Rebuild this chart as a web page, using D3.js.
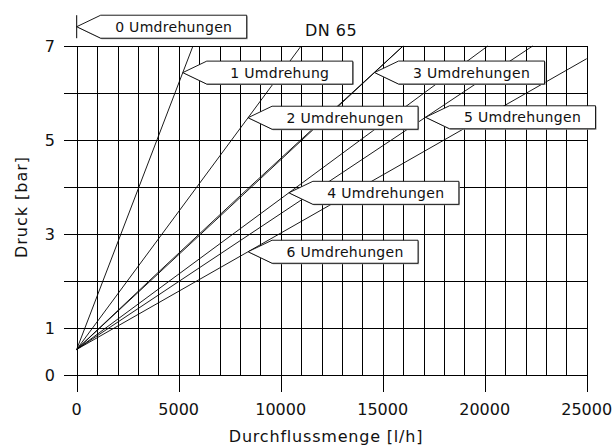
<!DOCTYPE html>
<html><head><meta charset="utf-8">
<script src="https://cdn.jsdelivr.net/npm/d3@7"></script>
<style>
html,body{margin:0;padding:0;background:#fff;}
text{font-family:"DejaVu Sans",sans-serif;fill:#111;}
</style></head>
<body><svg id="c" width="616" height="446"></svg>
<script>
// ---- data ----
const title = "DN 65";
const xTitle = "Durchflussmenge [l/h]";
const yTitle = "Druck [bar]";
const flowTicks = [0, 5000, 10000, 15000, 20000, 25000];
const pressureTicks = [0, 1, 3, 5, 7];
const flowGridStep = 1000;
const pressureGrid = [0, 1, 2, 3, 4, 5, 6, 7];
const seriesNames = ["1 Umdrehung", "2 Umdrehungen", "3 Umdrehungen", "4 Umdrehungen", "5 Umdrehungen", "6 Umdrehungen"];
const seriesFlow = [[0, 5700], [0, 11000], [0, 16000], [0, 20150], [0, 22350], [0, 25000]];
const seriesPressure = [[0.55, 7], [0.55, 7], [0.55, 7], [0.55, 7], [0.55, 7], [0.55, 6.73]];
const labelFlow = [5200, 8400, 14600, 10400, 17100, 8400];
const curve3Flow = [0, 4000, 8000, 12000, 16000];
const curve3Pressure = [0.55, 2.19, 3.81, 5.41, 7];
const zeroLabel = "0 Umdrehungen";
const zeroLabelPressure = 7.41;

// ---- chart ----
const svg = d3.select("#c");
const x = d3.scaleLinear().domain([0, 25000]).range([76.7, 586.7]);
const y = d3.scaleLinear().domain([0, 7]).range([375.3, 46.0]);
const px = v => Math.round(x(v)) + 0.5;
const py = v => Math.round(y(v)) + 0.5;

const grid = svg.append("g").attr("stroke", "#000").attr("stroke-width", 1).attr("shape-rendering", "crispEdges");
const flowGrid = d3.range(0, 25000 + 1, flowGridStep);
grid.selectAll("line.v").data(flowGrid).join("line")
  .attr("x1", d => px(d)).attr("x2", d => px(d))
  .attr("y1", d => flowTicks.includes(d) ? py(0) + 16 : py(0)).attr("y2", py(7));
grid.selectAll("line.h").data(pressureGrid).join("line")
  .attr("x1", px(0) - 14).attr("x2", px(25000))
  .attr("y1", d => py(d)).attr("y2", d => py(d));

// tick labels
svg.append("g").selectAll("text").data(flowTicks).join("text")
  .attr("x", d => x(d)).attr("y", 415).attr("text-anchor", "middle")
  .attr("font-size", 16).text(d => d);
svg.append("g").selectAll("text").data(pressureTicks).join("text")
  .attr("x", 55).attr("y", d => y(d) + 5.8).attr("text-anchor", "end")
  .attr("font-size", 16).text(d => d);

// titles
svg.append("text").attr("x", 326).attr("y", 441.5).attr("text-anchor", "middle")
  .attr("font-size", 16).attr("letter-spacing", 0.8).text(xTitle);
svg.append("text").attr("transform", "translate(27,207) rotate(-90)").attr("text-anchor", "middle")
  .attr("font-size", 16).attr("letter-spacing", 1).text(yTitle);
svg.append("text").attr("x", 331).attr("y", 36).attr("text-anchor", "middle")
  .attr("font-size", 16).attr("letter-spacing", 0.5).text(title);

// curves
const line = d3.line().x(d => x(d[0])).y(d => y(d[1]));
const curves = svg.append("g").attr("fill", "none").attr("stroke", "#000").attr("stroke-width", 0.9);
seriesNames.forEach((n, i) => {
  curves.append("path").attr("d", line(d3.zip(seriesFlow[i], seriesPressure[i])));
});
curves.append("path").attr("d", line(d3.zip(curve3Flow, curve3Pressure)));

// labels
const boxW = 146, boxH = 23, tipOff = 24;
function drawLabel(tx, ty, txt, bar) {
  const g = svg.append("g");
  const pts = [[tx, ty], [tx + tipOff, ty - boxH / 2], [tx + tipOff + boxW, ty - boxH / 2],
               [tx + tipOff + boxW, ty + boxH / 2], [tx + tipOff, ty + boxH / 2]];
  g.append("polygon").attr("points", pts.map(p => [p[0] + 1, p[1] + 1].join(",")).join(" "))
    .attr("fill", "#9a9a9a");
  g.append("polygon").attr("points", pts.map(p => p.join(",")).join(" "))
    .attr("fill", "#fff").attr("stroke", "#000").attr("stroke-width", 0.9);
  if (bar) {
    g.append("line").attr("x1", tx).attr("x2", tx).attr("y1", ty - boxH / 2).attr("y2", ty + boxH / 2)
      .attr("stroke", "#000").attr("stroke-width", 1);
  }
  g.append("text").attr("x", tx + tipOff + boxW / 2).attr("y", ty + 5.2).attr("text-anchor", "middle")
    .attr("font-size", 14).attr("letter-spacing", 0.3).text(txt);
}
drawLabel(x(0), y(zeroLabelPressure), zeroLabel, true);
seriesNames.forEach((n, i) => {
  const f = labelFlow[i];
  const p = d3.scaleLinear().domain(seriesFlow[i]).range(seriesPressure[i])(f);
  drawLabel(x(f), y(p), n, false);
});
</script></body></html>
